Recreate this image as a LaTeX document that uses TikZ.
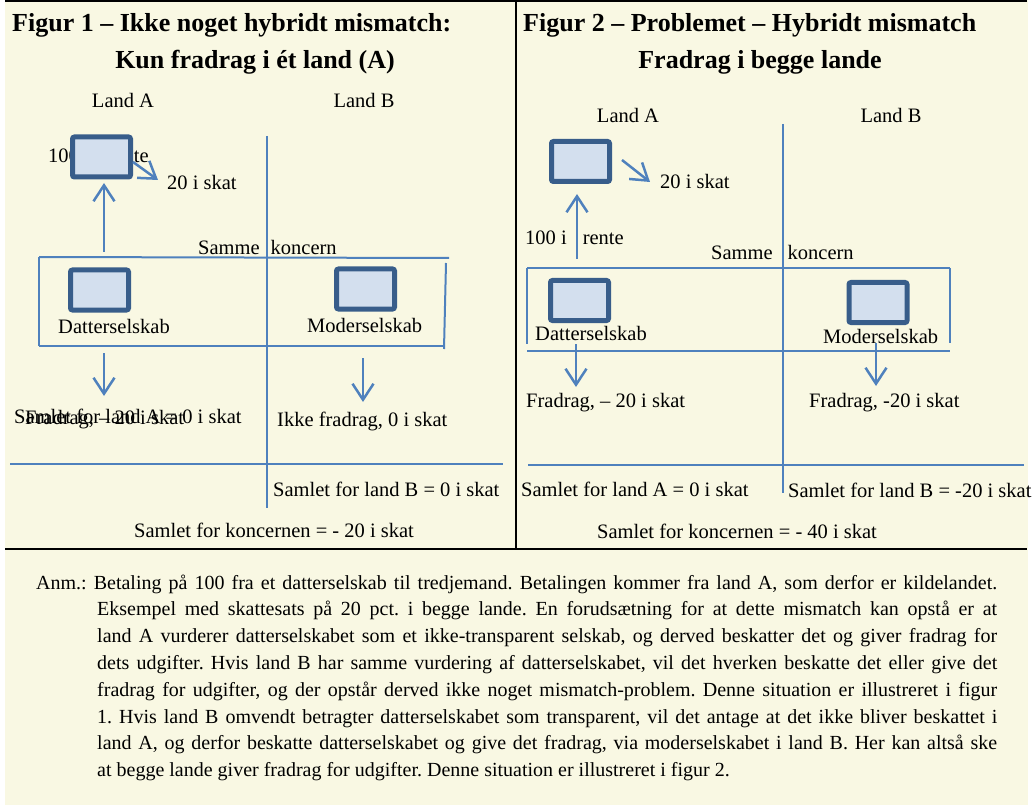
\documentclass[tikz,border=0pt]{standalone}
\usepackage{fontspec}
\setmainfont{Liberation Serif}
\usetikzlibrary{arrows.meta}
\definecolor{bgyellow}{HTML}{F9F8E3}
\definecolor{lineblue}{HTML}{4F81BD}
\definecolor{boxedge}{HTML}{385D8A}
\definecolor{boxfill}{HTML}{D3DFEE}
\newcommand{\noteline}[1]{\hbox to 961pt{\hskip61pt #1}}
\begin{document}
\begin{tikzpicture}[x=1pt,y=-1pt,
  txt/.style={inner sep=0pt, anchor=base west, font=\fontsize{20.5}{24}\selectfont},
  txtc/.style={txt, anchor=base},
  ttl/.style={inner sep=0pt, anchor=base west, font=\fontsize{26}{30}\selectfont\bfseries},
  ttlc/.style={ttl, anchor=base},
  entity/.style={draw=boxedge, fill=boxfill, line width=5pt, rounded corners=2pt,
    minimum width=58pt, minimum height=40pt, inner sep=0pt},
  bluel/.style={draw=lineblue, line width=2pt},
  arr/.style={draw=lineblue, line width=2.5pt, -{Straight Barb[length=16pt,width=21pt]}},
  blackrule/.style={draw=black, line width=2pt}]
\fill[white] (0,0) rectangle (1034,805);
\fill[bgyellow] (5,0) rectangle (1028,805);
\useasboundingbox (0,0) rectangle (1034,805);

% frame rules
\draw[blackrule] (5,1.5) -- (1027,1.5);
\draw[blackrule] (516,1.5) -- (516,548.5);
\draw[blackrule] (5,548.5) -- (1027,548.5);

% ---------------- Figure 1 ----------------
\node[ttl] (t1a) at (12,32) {Figur 1 – Ikke noget hybridt mismatch:};
\node[ttlc] (t1b) at (255,69) {Kun fradrag i ét land (A)};
\node[txtc] (la1) at (123,108) {Land A};
\node[txtc] (lb1) at (364,108) {Land B};

\draw[bluel] (267,136) -- (267,508);
\draw[bluel] (39,257) -- (449,258);
\draw[bluel] (39,257) -- (39,346);
\draw[bluel] (39,346) -- (445,346);
\draw[bluel] (446,263) -- (444,349);
\draw[bluel] (10,464) -- (503,464);

\node[txt] (r1) at (48,163) {100 i\hspace{18pt}rente};
\node[entity] (top1) at (101.5,157) {};
\node[txt] (s1) at (167,190) {20 i skat};
\node[txt] (k1) at (198,255) {Samme\hspace{11pt}koncern};
\node[entity] (d1) at (99.5,290) {};
\node[entity] (m1) at (365.5,289) {};
\node[txt] (dl1) at (58,333) {Datterselskab};
\node[txt] (ml1) at (307,332) {Moderselskab};
\node[txt] (sa1) at (14,423) {Samlet for land A = 0 i skat};
\node[txt] (fa1) at (25,424) {Fradrag, – 20 i skat};
\node[txt] (fb1) at (277,426) {Ikke fradrag, 0 i skat};
\node[txt] (sb1) at (273,496) {Samlet for land B = 0 i skat};
\node[txt] (sk1) at (134,537) {Samlet for koncernen = - 20 i skat};

\coordinate (u1s) at (104,252); \coordinate (u1e) at (104,183);
\coordinate (g1s) at (133,162); \coordinate (g1e) at (158,180);
\coordinate (dl1s) at (104,353); \coordinate (dl1e) at (104,396);
\coordinate (dr1s) at (363,358); \coordinate (dr1e) at (363,402);
\draw[arr] (u1s) -- (u1e);
\draw[arr] (g1s) -- (g1e);
\draw[arr] (dl1s) -- (dl1e);
\draw[arr] (dr1s) -- (dr1e);

% ---------------- Figure 2 ----------------
\node[ttl] (t2a) at (523,32) {Figur 2 – Problemet – Hybridt mismatch};
\node[ttlc] (t2b) at (760,69) {Fradrag i begge lande};
\node[txtc] (la2) at (628,123) {Land A};
\node[txtc] (lb2) at (891,123) {Land B};

\draw[bluel] (783,124) -- (783,493);
\draw[bluel] (527,268) -- (950,268);
\draw[bluel] (527,268) -- (527,344);
\draw[bluel] (527,351) -- (950,351);
\draw[bluel] (950,268) -- (950,343);
\draw[bluel] (528,465) -- (1024,465);

\node[txt] (r2) at (525,245) {100 i\hspace{16pt}rente};
\node[entity] (top2) at (580.5,161.5) {};
\node[txt] (s2) at (660,189) {20 i skat};
\node[txt] (k2) at (711,260) {Samme\hspace{15pt}koncern};
\node[entity] (d2) at (579.5,300.5) {};
\node[entity] (m2) at (878,302.5) {};
\node[txt] (dl2) at (535,341) {Datterselskab};
\node[txt] (ml2) at (823,343) {Moderselskab};
\node[txt] (fa2) at (526,407) {Fradrag, – 20 i skat};
\node[txt] (fb2) at (809,407) {Fradrag, -20 i skat};
\node[txt] (sa2) at (521,496) {Samlet for land A = 0 i skat};
\node[txt] (sb2) at (788,497) {Samlet for land B = -20 i skat};
\node[txt] (sk2) at (597,538) {Samlet for koncernen = - 40 i skat};

\coordinate (u2s) at (577,259); \coordinate (u2e) at (577,194);
\coordinate (g2s) at (622,160); \coordinate (g2e) at (650,182);
\coordinate (dl2s) at (576,344); \coordinate (dl2e) at (576,387);
\coordinate (dr2s) at (876,343); \coordinate (dr2e) at (876,386);
\draw[arr] (u2s) -- (u2e);
\draw[arr] (g2s) -- (g2e);
\draw[arr] (dl2s) -- (dl2e);
\draw[arr] (dr2s) -- (dr2e);

% ---------------- Note ----------------
\node[inner sep=0pt, anchor=base west, font=\fontsize{20}{26.8}\selectfont] (note) at (36,589)
{\frenchspacing\vtop{\baselineskip=26.8pt\lineskiplimit=-10pt
\hbox to 961pt{Anm.: Betaling på 100 fra et datterselskab til tredjemand. Betalingen kommer fra land A, som derfor er kildelandet.}
\noteline{Eksempel med skattesats på 20 pct. i begge lande. En forudsætning for at dette mismatch kan opstå er at}
\noteline{land A vurderer datterselskabet som et ikke-transparent selskab, og derved beskatter det og giver fradrag for}
\noteline{dets udgifter. Hvis land B har samme vurdering af datterselskabet, vil det hverken beskatte det eller give det}
\noteline{fradrag for udgifter, og der opstår derved ikke noget mismatch-problem. Denne situation er illustreret i figur}
\noteline{1. Hvis land B omvendt betragter datterselskabet som transparent, vil det antage at det ikke bliver beskattet i}
\noteline{land A, og derfor beskatte datterselskabet og give det fradrag, via moderselskabet i land B. Her kan altså ske}
\noteline{at begge lande giver fradrag for udgifter. Denne situation er illustreret i figur 2.\hfil}}};
\end{tikzpicture}
\end{document}
